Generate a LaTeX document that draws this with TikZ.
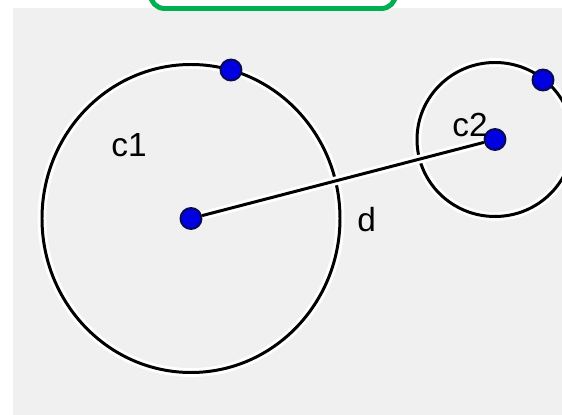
\documentclass[tikz,border=0pt]{standalone}
\usepackage{fontspec}
\setmainfont{Liberation Sans}
\usetikzlibrary{positioning}
\definecolor{paper}{RGB}{240,240,240}
\definecolor{frame}{RGB}{0,176,80}
\definecolor{dotfill}{RGB}{0,0,225}
\definecolor{dotrim}{RGB}{10,10,80}

\begin{document}
\begin{tikzpicture}[x=0.02cm,y=-0.02cm,
 curve/.style={draw=black,line width=1.7pt,preaction={draw=white,line width=5pt}},
 dot/.style={circle,draw=dotrim,fill=dotfill,line width=1.1pt,minimum size=0.42cm,inner sep=0pt},
 lbl/.style={font=\fontsize{19}{22}\selectfont,inner sep=0pt,anchor=base west}]
\useasboundingbox (0,0) rectangle (562,415);
\clip (0,0) rectangle (562,415);
\fill[paper] (13,8) rectangle (562,415);
\draw[frame,line width=2.8pt,fill=white,rounded corners=8pt] (150.5,-40) rectangle (395.5,8.5);
% centres of the two circles
\coordinate (o1) at (191,218.5);
\coordinate (o2) at (495,139.5);
\draw[curve] (o1) ellipse [x radius=149,y radius=154];
\draw[curve] (o2) ellipse [x radius=78,y radius=77];
% points
\node[dot] (m1) at (o1) {};
\node[dot] (m2) at (o2) {};
\node[dot] (p1) at (231,70) {};
\node[dot] (p2) at (543,80) {};
\draw[curve] (m1) -- (m2);
% labels
\node[lbl] (c1) at (111,157) {c1};
\node[lbl] (c2) at (452,137) {c2};
\node[lbl] (d) at (357,232) {d};
\end{tikzpicture}
\end{document}
